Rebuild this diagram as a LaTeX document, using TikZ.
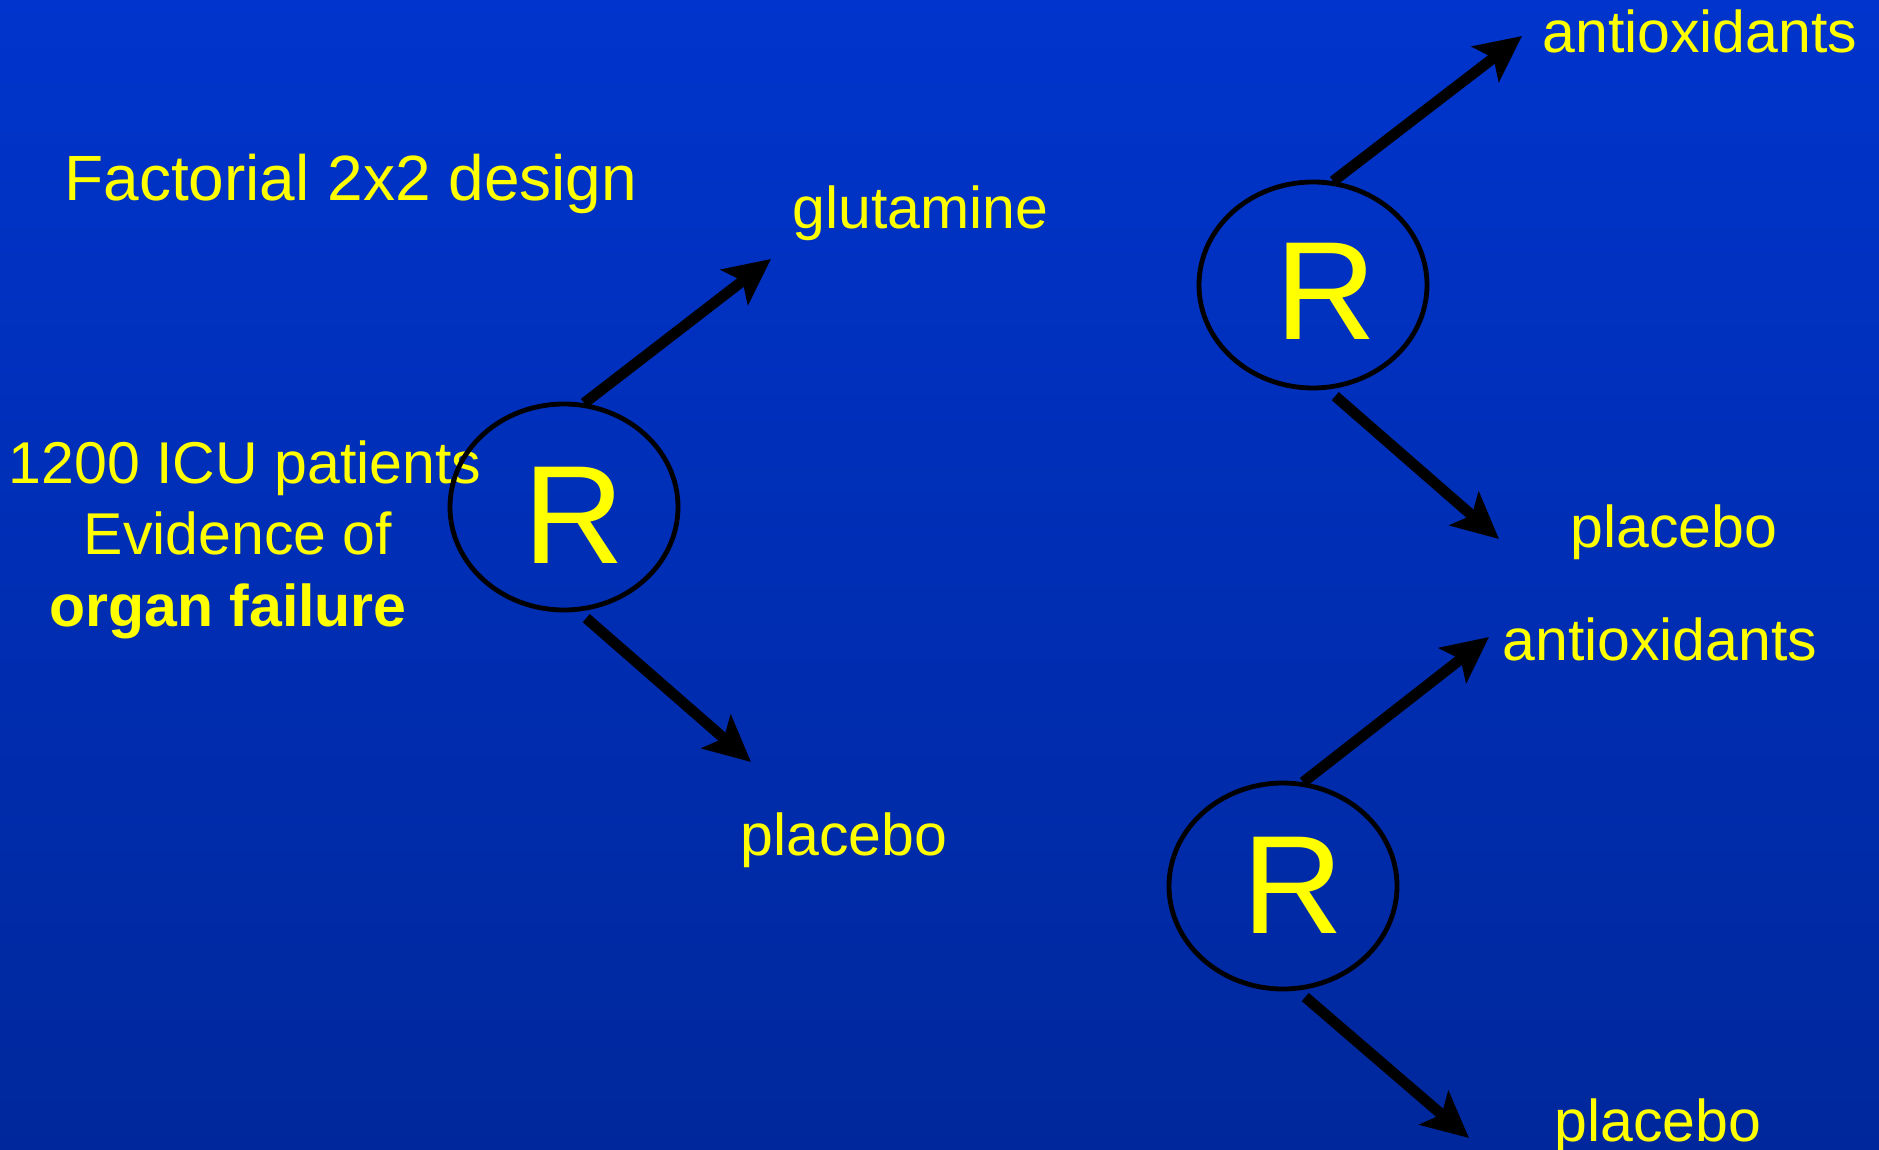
\documentclass[tikz,border=0pt]{standalone}
\usepackage{fontspec}
\setmainfont{Liberation Sans}
\usetikzlibrary{shapes.geometric,arrows.meta}
\definecolor{bgtop}{RGB}{0,52,204}
\definecolor{bgbot}{RGB}{0,40,156}
\definecolor{txt}{RGB}{255,255,0}
\begin{document}
\begin{tikzpicture}[x=0.5pt,y=-0.5pt,
  lbl/.style={text=txt, font=\fontsize{29.5}{35}\selectfont, inner sep=0pt, anchor=base west},
  lblc/.style={lbl, anchor=base},
  rand/.style={ellipse, draw=black, line width=2.4pt, minimum width=114pt, minimum height=103pt, inner sep=0pt},
  rlet/.style={text=txt, font=\fontsize{70}{72}\selectfont, inner sep=0pt},
  arr/.style={draw=black, line width=5.4pt, -{Stealth[length=23pt,width=22pt,inset=5pt]}},
  arrdn/.style={arr, shorten <=5pt}]
% background
\shade[top color=bgtop, bottom color=bgbot] (0,0) rectangle (1879,1150);
\useasboundingbox (0,0) rectangle (1879,1150);

% headings and labels
\node[lbl, font=\fontsize{32}{38}\selectfont] (title) at (64,201) {Factorial 2x2 design};
\node[lblc] (pat1) at (245,483) {1200 ICU patients};
\node[lblc] (pat2) at (238,554) {Evidence of};
\node[lblc, font=\fontsize{29.5}{35}\selectfont\bfseries] (pat3) at (228,626) {organ failure};

\node[lbl] (glu) at (792,229) {glutamine};
\node[lbl] (plc1) at (740,855) {placebo};
\node[lbl] (anti1) at (1542,53) {antioxidants};
\node[lbl] (plc2) at (1570,547) {placebo};
\node[lbl] (anti2) at (1502,660) {antioxidants};
\node[lbl] (plc3) at (1554,1141) {placebo};

% randomisation circles
\node[rand] (r1) at (564,507) {};
\node[rand] (r2) at (1313,285) {};
\node[rand] (r3) at (1283,886) {};
\node[rlet] (r1t) at (574,515) {R};
\node[rlet] (r2t) at (1326,291) {R};
\node[rlet] (r3t) at (1293,885) {R};

% arrow tips
\coordinate (a1) at (771,259);
\coordinate (a2) at (751,762);
\coordinate (a3) at (1522,36);
\coordinate (a4) at (1499,539);
\coordinate (a5) at (1489,637);
\coordinate (a6) at (1469,1138);

\draw[arr] (r1.79) -- (a1);
\draw[arrdn] (r1.-82) -- (a2);
\draw[arr] (r2.79) -- (a3);
\draw[arrdn] (r2.-82) -- (a4);
\draw[arr] (r3.79) -- (a5);
\draw[arrdn] (r3.-82) -- (a6);
\end{tikzpicture}
\end{document}
